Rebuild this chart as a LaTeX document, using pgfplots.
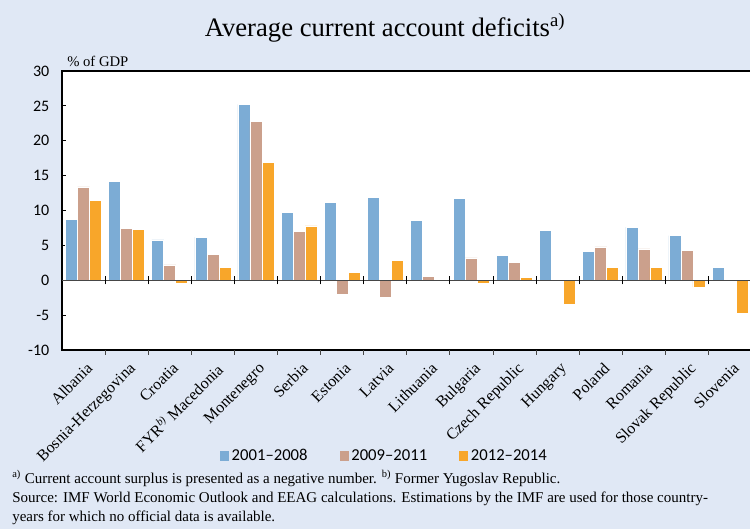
\documentclass[border=0pt]{standalone}
\usepackage{pgfplots}
\pgfplotsset{compat=1.18}
\usepackage{fontspec}
\setmainfont{Liberation Serif}
\newfontfamily\calfont{Carlito}
\definecolor{bg}{RGB}{224,232,245}
\definecolor{cblue}{RGB}{124,172,213}
\definecolor{ctan}{RGB}{203,160,140}
\definecolor{corange}{RGB}{248,166,42}
\definecolor{axgray}{RGB}{70,70,70}

\begin{document}
\begin{tikzpicture}
% whole picture 750x529 px, 1px = 0.75pt
\fill[bg] (0,0) rectangle (562.5pt,-396.75pt);
\useasboundingbox (0,0) rectangle (562.5pt,-396.75pt);

\node[font=\fontsize{20}{24}\selectfont] at (288.75pt,-21pt)
  {Average current account deficits\textsuperscript{a)}};
\node[anchor=base west, inner sep=0pt, font=\fontsize{11}{13}\selectfont]
  at (50.25pt,-49.5pt) {\% of GDP};

\begin{axis}[
    at={(46.5pt,-53.25pt)}, anchor=north west,
    scale only axis,
    width=517.2pt, height=209.25pt,
    axis background/.style={fill=white},
    clip=false,
    ymin=-10, ymax=30,
    xmin=-0.5, xmax=15.5,
    ybar=0pt, bar width=9pt,
    ytick={-10,-5,0,5,10,15,20,25,30},
    yticklabels={-10,-5,0,5,10,15,20,25,30},
    yticklabel style={font=\calfont\fontsize{12}{12}\selectfont, xshift=-6pt},
    ytick style={black, line width=0.6pt},
    ytick pos=left,
    tick align=inside,
    major tick length=3pt,
    xtick={0,...,15},
    xtick style={draw=none},
    xticklabels={Albania, Bosnia-Herzegovina, Croatia, FYR\textsuperscript{\itshape b)} Macedonia,
      Montenegro, Serbia, Estonia, Latvia, Lithuania, Bulgaria, Czech Republic,
      Hungary, Poland, Romania, Slovak Republic, Slovenia},
    xticklabel shift=10pt,
    xticklabel style={rotate=45, anchor=north east, inner sep=0pt, xshift=2pt,
      font=\fontsize{12}{12}\selectfont},
    axis line style={axgray, line width=0.9pt},
    every outer y axis line/.append style={black, line width=1.1pt},
    legend columns=3,
    legend style={at={(0.468,-0.38)}, anchor=center, draw=none, fill=none,
      font=\calfont\fontsize{12.5}{14}\selectfont,
      /tikz/every even column/.append style={column sep=22pt}},
    legend image code/.code={\fill[#1, draw=none] (0pt,-3.4pt) rectangle (6.8pt,3.4pt);},
]
\addplot[fill=cblue, draw=white, line width=0.4pt] coordinates {
  (0,8.7) (1,14.2) (2,5.8) (3,6.2) (4,25.2) (5,9.7) (6,11.2) (7,11.9)
  (8,8.6) (9,11.7) (10,3.6) (11,7.1) (12,4.1) (13,7.6) (14,6.4) (15,1.9)};
\addplot[fill=ctan, draw=white, line width=0.4pt] coordinates {
  (0,13.4) (1,7.4) (2,2.2) (3,3.7) (4,22.8) (5,7.0) (6,-2.0) (7,-2.5)
  (8,0.6) (9,3.2) (10,2.6) (11,0) (12,4.8) (13,4.5) (14,4.3) (15,0.15)};
\addplot[fill=corange, draw=white, line width=0.4pt] coordinates {
  (0,11.5) (1,7.3) (2,-0.4) (3,1.9) (4,16.9) (5,7.8) (6,1.1) (7,2.8)
  (8,0) (9,-0.4) (10,0.4) (11,-3.5) (12,1.9) (13,1.8) (14,-1.0) (15,-4.8)};
\legend{2001–2008, 2009–2011, 2012–2014}

\draw[axgray, line width=1.1pt] (axis cs:-0.5,0) -- (axis cs:15.5,0);
\pgfplotsinvokeforeach{0.5,1.5,...,14.5}{
  \draw[black, line width=0.7pt] (axis cs:#1,-0.6) -- (axis cs:#1,0.6);
  \draw[axgray, line width=0.7pt] (axis cs:#1,-10) -- (axis cs:#1,-10.7);
}
\end{axis}

\begin{scope}[font=\fontsize{11.25}{13}\selectfont]
\node[anchor=base west, inner sep=0pt] at (9pt,-362.25pt)
  {\textsuperscript{a)} Current account surplus is presented as a negative number. \textsuperscript{b)} Former Yugoslav Republic.};
\node[anchor=base west, inner sep=0pt] at (9pt,-376.5pt)
  {Source: IMF World Economic Outlook and EEAG calculations. Estimations by the IMF are used for those country-};
\node[anchor=base west, inner sep=0pt] at (9pt,-390.75pt)
  {years for which no official data is available.};
\end{scope}
\end{tikzpicture}
\end{document}
